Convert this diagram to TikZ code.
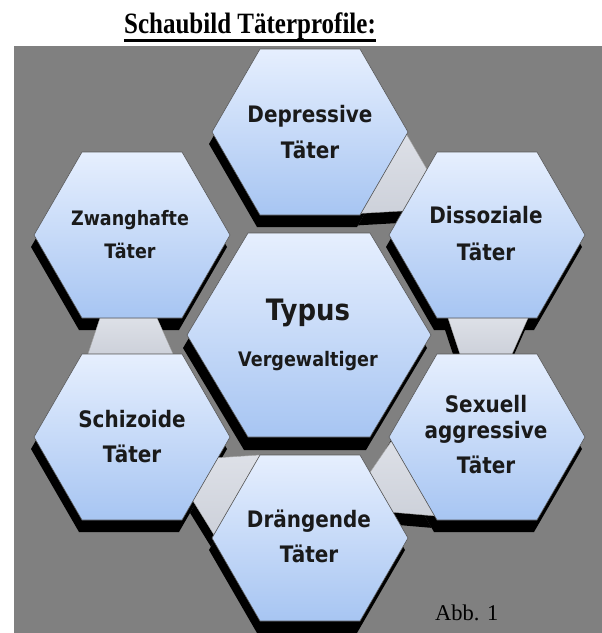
\documentclass[tikz,border=0pt]{standalone}
\usepackage{fontspec}
\usepackage{graphicx}
\setmainfont{Liberation Serif}
\newfontfamily\hexfont[FakeStretch=0.88]{DejaVu Sans}
\usetikzlibrary{calc}
\definecolor{panelgrey}{HTML}{808080}
\definecolor{hextop}{HTML}{E6EFFE}
\definecolor{hexbot}{HTML}{A7C5F2}
\definecolor{bandA}{HTML}{DDE0E7}
\definecolor{bandB}{HTML}{CDD1DA}
\definecolor{txt}{HTML}{1A1A1A}
\begin{document}
\begin{tikzpicture}[x=1pt,y=-1pt,
  hexfill/.style={top color=hextop, bottom color=hexbot, draw=black!65, line width=0.6pt},
  shadowfill/.style={fill=black},
  bandfill/.style={top color=bandA, bottom color=bandB, draw=black!35, line width=0.4pt},
  lbl/.style={inner sep=0pt, anchor=base, text=txt, font={\hexfont\bfseries\fontsize{22.7}{27}\selectfont}},
  lblsmall/.style={lbl, font={\hexfont\bfseries\fontsize{19.9}{24}\selectfont}},
  lblbig/.style={lbl, font={\hexfont\bfseries\fontsize{29.5}{34}\selectfont}},
  lblmid/.style={lbl, font={\hexfont\bfseries\fontsize{20}{24}\selectfont}}]
\useasboundingbox (0,0) rectangle (602,633);
\fill[white] (0,0) rectangle (602,633);
\fill[panelgrey] (14,46) rectangle (602,633);

% hexagon vertices
\foreach \n/\cx/\cy/\w/\t/\h in {dep/310/132/98/50/83, dis/487/235/98/50/83, sx/487/437/98/50/83, dr/310/538/98/50/83, sch/132/437/98/50/83, zw/132/235/98/50/83, typ/309/335/122/61/102} {
  \coordinate (\n) at (\cx,\cy);
  \coordinate (\n-L) at (\cx-\w,\cy);
  \coordinate (\n-TL) at (\cx-\t,\cy-\h);
  \coordinate (\n-TR) at (\cx+\t,\cy-\h);
  \coordinate (\n-R) at (\cx+\w,\cy);
  \coordinate (\n-BR) at (\cx+\t,\cy+\h);
  \coordinate (\n-BL) at (\cx-\t,\cy+\h);
}

% band corners
\coordinate (b1-1) at ($(dep-R)!0.03!(dep-BR)$);
\coordinate (b1-2) at ($(dep-R)!0.98!(dep-BR)$);
\coordinate (b1-3) at ($(dis-L)!0.29!(dis-TL)$);
\coordinate (b1-4) at ($(dis-L)!0.79!(dis-TL)$);

\coordinate (b2-1) at ($(zw-BL)!0.18!(zw-BR)$);
\coordinate (b2-2) at ($(zw-BL)!0.75!(zw-BR)$);
\coordinate (b2-3) at ($(sch-TL)!0.91!(sch-TR)$);
\coordinate (b2-4) at ($(sch-TL)!0.06!(sch-TR)$);

\coordinate (b3-1) at ($(sch-R)!0.25!(sch-BR)$);
\coordinate (b3-2) at ($(sch-R)!0.77!(sch-BR)$);
\coordinate (b3-3) at ($(dr-TL)!0.96!(dr-L)$);
\coordinate (b3-4) at ($(dr-TL)!0.0!(dr-L)$);

\coordinate (b4-1) at ($(dr-TR)!0.21!(dr-R)$);
\coordinate (b4-2) at ($(dr-TR)!0.69!(dr-R)$);
\coordinate (b4-3) at ($(sx-L)!0.95!(sx-BL)$);
\coordinate (b4-4) at ($(sx-L)!0.05!(sx-BL)$);

\coordinate (b5-1) at ($(dis-BL)!0.11!(dis-BR)$);
\coordinate (b5-2) at ($(dis-BL)!0.91!(dis-BR)$);
\coordinate (b5-3) at ($(sx-TL)!0.75!(sx-TR)$);
\coordinate (b5-4) at ($(sx-TL)!0.23!(sx-TR)$);

% shadows
\foreach \i in {1,...,5}
  \fill[shadowfill] ([shift={(-3,12)}]b\i-1) -- ([shift={(-3,12)}]b\i-2) -- ([shift={(-3,12)}]b\i-3) -- ([shift={(-3,12)}]b\i-4) -- cycle;
\foreach \n in {dep,dis,sx,dr,sch,zw}
  \fill[shadowfill] ([shift={(-3,12)}]\n-L) -- ([shift={(-3,12)}]\n-TL) -- ([shift={(-3,12)}]\n-TR) -- ([shift={(-3,12)}]\n-R) -- ([shift={(-3,12)}]\n-BR) -- ([shift={(-3,12)}]\n-BL) -- cycle;
\fill[shadowfill] ([shift={(-4,13)}]typ-L) -- ([shift={(-4,13)}]typ-TL) -- ([shift={(-4,13)}]typ-TR) -- ([shift={(-4,13)}]typ-R) -- ([shift={(-4,13)}]typ-BR) -- ([shift={(-4,13)}]typ-BL) -- cycle;

% bands
\foreach \i in {1,...,5}
  \shade[bandfill] (b\i-1) -- (b\i-2) -- (b\i-3) -- (b\i-4) -- cycle;

% hexagons
\foreach \n in {dep,dis,sx,dr,sch,zw,typ}
  \shade[hexfill] (\n-L) -- (\n-TL) -- (\n-TR) -- (\n-R) -- (\n-BR) -- (\n-BL) -- cycle;

% labels
\node[lbl] (t-dep1) at (310,122) {Depressive};
\node[lbl] (t-dep2) at (310,158) {Täter};
\node[lblsmall] (t-zw1) at (130,225) {Zwanghafte};
\node[lblsmall] (t-zw2) at (130,258) {Täter};
\node[lbl] (t-dis1) at (486,223) {Dissoziale};
\node[lbl] (t-dis2) at (486,260) {Täter};
\node[lblbig] (t-typ1) at (308,320) {Typus};
\node[lblmid] (t-typ2) at (308,366) {Vergewaltiger};
\node[lbl] (t-sch1) at (132,427) {Schizoide};
\node[lbl] (t-sch2) at (132,462) {Täter};
\node[lbl] (t-sx1) at (486,412) {Sexuell};
\node[lbl] (t-sx2) at (486,438) {aggressive};
\node[lbl] (t-sx3) at (486,473) {Täter};
\node[lbl] (t-dr1) at (309,527) {Drängende};
\node[lbl] (t-dr2) at (309,562) {Täter};

% title and caption
\node[inner sep=0pt, anchor=base] (title) at (250,33) {\scalebox{1}[1.18]{\fontsize{25}{30}\selectfont\bfseries Schaubild Täterprofile:}};
\draw[line width=2.2pt] ($(title.base west)+(0,7.5)$) -- ($(title.base east)+(0,7.5)$);
\node[inner sep=0pt, anchor=base west] (abb) at (435,620) {\fontsize{22.5}{27}\selectfont Abb. 1};
\end{tikzpicture}
\end{document}
